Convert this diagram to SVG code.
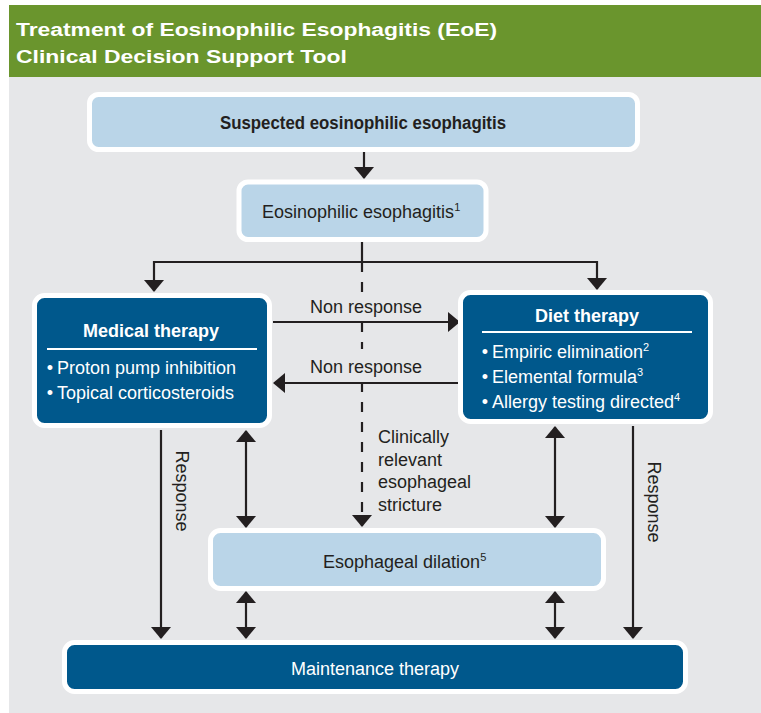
<svg xmlns="http://www.w3.org/2000/svg" width="761" height="713" viewBox="0 0 761 713">
<defs>
<style>
.t{font-family:"Liberation Sans",Arial,sans-serif;fill:#231f20;font-size:18px}
.w{fill:#ffffff}
.b{font-weight:bold}
.lb{fill:#bad5e8;stroke:#ffffff;stroke-width:5}
.db{fill:#00588c;stroke:#ffffff;stroke-width:5}
.ln{stroke:#231f20;stroke-width:2.2;fill:none}
.sup{font-size:11px}
</style>
<marker id="ah" viewBox="0 0 12 20" refX="11" refY="10" markerWidth="12" markerHeight="20" markerUnits="userSpaceOnUse" orient="auto-start-reverse">
<path d="M0,0 L12,10 L0,20 z" fill="#231f20"/>
</marker>
</defs>
<rect x="0" y="0" width="761" height="713" fill="#ffffff"/>
<rect x="9" y="5" width="752" height="72" fill="#6a952d"/>
<rect x="9" y="77" width="752" height="636" fill="#e6e7e9"/>
<g id="title">
<text class="t w b" x="16" y="36" font-size="23.5" textLength="481" lengthAdjust="spacingAndGlyphs">Treatment of Eosinophilic Esophagitis (EoE)</text>
<text class="t w b" x="16" y="63" font-size="23.5" textLength="331" lengthAdjust="spacingAndGlyphs">Clinical Decision Support Tool</text>
</g>
<g id="connectors">
<line class="ln" x1="364" y1="152" x2="364" y2="178" marker-end="url(#ah)"/>
<line class="ln" x1="362" y1="242" x2="362" y2="262"/>
<line class="ln" x1="154" y1="262" x2="597" y2="262"/>
<line class="ln" x1="154" y1="261" x2="154" y2="291" marker-end="url(#ah)"/>
<line class="ln" x1="597" y1="261" x2="597" y2="289" marker-end="url(#ah)"/>
<line class="ln" x1="362" y1="262" x2="362" y2="526" stroke-dasharray="10 10" marker-end="url(#ah)"/>
<rect x="306" y="292" width="120" height="27" fill="#e6e7e9"/>
<rect x="306" y="349" width="120" height="29" fill="#e6e7e9"/>
<line class="ln" x1="273" y1="322" x2="459" y2="322" marker-end="url(#ah)"/>
<line class="ln" x1="459" y1="383" x2="274" y2="383" marker-end="url(#ah)"/>
<line class="ln" x1="161" y1="430" x2="161" y2="638" marker-end="url(#ah)"/>
<line class="ln" x1="633" y1="426" x2="633" y2="638" marker-end="url(#ah)"/>
<line class="ln" x1="246" y1="431" x2="246" y2="527" marker-start="url(#ah)" marker-end="url(#ah)"/>
<line class="ln" x1="555" y1="427" x2="555" y2="527" marker-start="url(#ah)" marker-end="url(#ah)"/>
<line class="ln" x1="246" y1="592" x2="246" y2="638" marker-start="url(#ah)" marker-end="url(#ah)"/>
<line class="ln" x1="555" y1="592" x2="555" y2="638" marker-start="url(#ah)" marker-end="url(#ah)"/>
<text class="t" x="366" y="313" text-anchor="middle">Non response</text>
<text class="t" x="366" y="373" text-anchor="middle">Non response</text>
<text class="t" transform="translate(176,491) rotate(90)" text-anchor="middle">Response</text>
<text class="t" transform="translate(648,502) rotate(90)" text-anchor="middle">Response</text>
<text class="t" x="378" y="443">Clinically</text>
<text class="t" x="378" y="466">relevant</text>
<text class="t" x="378" y="488">esophageal</text>
<text class="t" x="378" y="511">stricture</text>
</g>
<g id="suspected">
<rect class="lb" x="89.5" y="94.5" width="548" height="55" rx="9"/>
<text class="t b" x="363" y="129" text-anchor="middle" font-size="18" textLength="286" lengthAdjust="spacingAndGlyphs">Suspected eosinophilic esophagitis</text>
</g>
<g id="eoe">
<rect class="lb" x="239" y="182" width="247" height="57.5" rx="9"/>
<text class="t" x="262" y="218">Eosinophilic esophagitis<tspan class="sup" dy="-7">1</tspan></text>
</g>
<g id="medical">
<rect class="db" x="34.5" y="295.5" width="235" height="130" rx="10"/>
<text class="t w b" x="151" y="337" text-anchor="middle" font-size="17.5">Medical therapy</text>
<line x1="47" y1="349" x2="257" y2="349" stroke="#ffffff" stroke-width="2"/>
<text class="t w" x="50" y="374" font-size="19" text-anchor="middle">•</text>
<text class="t w" x="57" y="374" font-size="19">Proton pump inhibition</text>
<text class="t w" x="50" y="399" font-size="19" text-anchor="middle">•</text>
<text class="t w" x="57" y="399" font-size="19">Topical corticosteroids</text>
</g>
<g id="diet">
<rect class="db" x="460.5" y="292.5" width="250" height="129" rx="10"/>
<text class="t w b" x="587" y="322" text-anchor="middle" font-size="17.5">Diet therapy</text>
<line x1="482" y1="332" x2="692" y2="332" stroke="#ffffff" stroke-width="2"/>
<text class="t w" x="485" y="358" font-size="19" text-anchor="middle">•</text>
<text class="t w" x="492" y="358" font-size="19">Empiric elimination<tspan class="sup" dy="-7">2</tspan></text>
<text class="t w" x="485" y="383" font-size="19" text-anchor="middle">•</text>
<text class="t w" x="492" y="383" font-size="19">Elemental formula<tspan class="sup" dy="-7">3</tspan></text>
<text class="t w" x="485" y="408" font-size="19" text-anchor="middle">•</text>
<text class="t w" x="492" y="408" font-size="19">Allergy testing directed<tspan class="sup" dy="-7">4</tspan></text>
</g>
<g id="dilation">
<rect class="lb" x="210.5" y="530.5" width="393" height="58" rx="10"/>
<text class="t" x="323" y="568">Esophageal dilation<tspan class="sup" dy="-7">5</tspan></text>
</g>
<g id="maintenance">
<rect class="db" x="64.5" y="642.5" width="621" height="49" rx="10"/>
<text class="t w" x="375" y="675" text-anchor="middle">Maintenance therapy</text>
</g>
</svg>
